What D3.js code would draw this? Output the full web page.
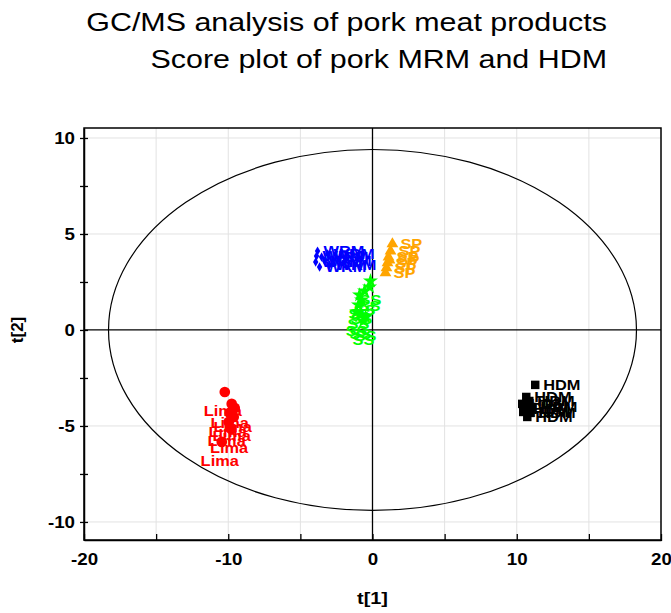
<!DOCTYPE html>
<html><head><meta charset="utf-8">
<script src="https://cdn.jsdelivr.net/npm/d3@7"></script>
<style>body{margin:0;background:#fff} svg{display:block}</style>
</head><body><svg id="c" width="671" height="613"></svg>
<script>
const titleLines = ["GC/MS analysis of pork meat products", "Score plot of pork MRM and HDM"];
const xLabel = "t[1]";
const yLabel = "t[2]";
const xTickValues = [-20, -15, -10, -5, 0, 5, 10, 15, 20];
const xTickLabels = ["-20", "", "-10", "", "0", "", "10", "", "20"];
const yTickValues = [-10, -7.5, -5, -2.5, 0, 2.5, 5, 7.5, 10];
const yTickLabels = ["-10", "", "-5", "", "0", "", "5", "", "10"];
const ellipseRadii = [18.3, 9.4];

const groupNames = ["WRM", "SP", "SS", "Lima", "HDM"];
const wrmX = [-3.81, -3.53, -3.94, -3.32, -3.67, -3.11, -2.98, -3.88];
const wrmY = [4.11, 3.80, 3.54, 3.59, 3.28, 3.96, 3.39, 3.85];
const spX = [1.38, 1.25, 1.11, 1.04, 0.97, 0.90, 1.18];
const spY = [4.48, 4.11, 3.80, 3.49, 3.23, 2.97, 3.64];
const ssX = [-0.14, -0.20, -0.55, -0.90, -0.76, -0.97, -1.10, -0.83, -0.48, -0.62];
const ssY = [2.55, 2.24, 2.03, 1.82, 1.56, 1.30, 0.94, 0.78, 0.68, 0.47];
const limaX = [-10.24, -9.76, -9.55, -9.90, -9.62, -9.97, -9.80, -10.45];
const limaY = [-3.23, -3.85, -4.06, -4.32, -4.53, -4.79, -5.16, -5.83];
const hdmX = [11.28, 10.66, 10.38, 10.45, 10.73, 10.87, 11.07, 10.59, 10.94];
const hdmY = [-2.86, -3.49, -3.85, -4.27, -4.53, -3.70, -4.01, -4.11, -4.32];

const groups = [
  {name: groupNames[0], xs: wrmX, ys: wrmY, color: "#0000ff", symbol: d3.symbolDiamond, size: 25, place: "right", dx: 6},
  {name: groupNames[1], xs: spX, ys: spY, color: "#ffa500", symbol: d3.symbolTriangle, size: 60, place: "right", dx: 8},
  {name: groupNames[2], xs: ssX, ys: ssY, color: "#00ff00", symbol: d3.symbolStar, size: 70, place: "below", dx: 0},
  {name: groupNames[3], xs: limaX, ys: limaY, color: "#ff0000", symbol: d3.symbolCircle, size: 90, place: "below", dx: -2},
  {name: groupNames[4], xs: hdmX, ys: hdmY, color: "#000000", symbol: d3.symbolSquare, size: 72, place: "right", dx: 8}
];

const svg = d3.select("#c");
const font = "Arial, 'Liberation Sans', sans-serif";
const STRETCH = 1.17;
function stretch(sel) {
  sel.each(function () {
    const len = this.getComputedTextLength();
    if (len > 0) d3.select(this).attr("textLength", len * STRETCH).attr("lengthAdjust", "spacingAndGlyphs");
  });
}
const L = 84, R = 661, T = 128, B = 540;
const x = d3.scaleLinear().domain([-20, 20]).range([L, R]);
const y = d3.scaleLinear().domain([-10.94, 10.52]).range([B, T]);

// title
svg.selectAll("text.title").data(titleLines).join("text")
  .attr("class", "title")
  .attr("x", 607).attr("y", (d, i) => 31 + i * 37)
  .attr("text-anchor", "end")
  .attr("font-family", font).attr("font-size", 26)
  .attr("fill", "#000").text(d => d).call(stretch);

// grid
const gridX = xTickValues.filter(v => v !== 0 && Math.abs(v) !== 20);
const gridY = yTickValues.filter(v => v % 5 === 0 && v !== 0);
svg.append("g").selectAll("line").data(gridX).join("line")
  .attr("x1", d => x(d)).attr("x2", d => x(d)).attr("y1", T).attr("y2", B)
  .attr("stroke", "#e2e2e2").attr("stroke-width", 1);
svg.append("g").selectAll("line").data(gridY).join("line")
  .attr("x1", L).attr("x2", R).attr("y1", d => y(d)).attr("y2", d => y(d))
  .attr("stroke", "#e2e2e2").attr("stroke-width", 1);

// zero lines
svg.append("line").attr("x1", x(0)).attr("x2", x(0)).attr("y1", T).attr("y2", B)
  .attr("stroke", "#000").attr("stroke-width", 1.3);
svg.append("line").attr("x1", L).attr("x2", R).attr("y1", y(0)).attr("y2", y(0))
  .attr("stroke", "#000").attr("stroke-width", 1.3);

// ellipse
svg.append("ellipse")
  .attr("cx", x(0)).attr("cy", y(0))
  .attr("rx", x(ellipseRadii[0]) - x(0)).attr("ry", y(0) - y(ellipseRadii[1]))
  .attr("fill", "none").attr("stroke", "#000").attr("stroke-width", 1.2);

// frame
svg.append("rect").attr("x", L).attr("y", T).attr("width", R - L).attr("height", B - T)
  .attr("fill", "none").attr("stroke", "#000").attr("stroke-width", 1.5);

// x axis
const xAxis = d3.axisBottom(x).tickValues(xTickValues)
  .tickFormat((d, i) => xTickLabels[i]).tickSizeInner(-6).tickSizeOuter(0).tickPadding(14);
const gx = svg.append("g").attr("transform", `translate(0,${B})`).call(xAxis);
gx.select(".domain").attr("stroke-width", 1.5);
gx.selectAll(".tick line").attr("stroke-width", 1.3).attr("y1", 1);
gx.selectAll(".tick text").attr("font-family", font).attr("font-size", 16).attr("font-weight", "bold").call(stretch);

// y axis
const yAxis = d3.axisLeft(y).tickValues(yTickValues)
  .tickFormat((d, i) => yTickLabels[i]).tickSizeInner(4).tickSizeOuter(0).tickPadding(5);
const gy = svg.append("g").attr("transform", `translate(${L},0)`).call(yAxis);
gy.select(".domain").attr("stroke-width", 1.5);
gy.selectAll(".tick line").attr("stroke-width", 1.3).attr("x2", 4).attr("x1", -4);
gy.selectAll(".tick text").attr("font-family", font).attr("font-size", 16).attr("font-weight", "bold").call(stretch);

// axis titles
svg.append("text").attr("x", x(0)).attr("y", 604).attr("text-anchor", "middle")
  .attr("font-family", font).attr("font-size", 17).attr("font-weight", "bold").text(xLabel).call(stretch);
svg.append("text").attr("transform", `translate(23,${y(0)}) rotate(-90)`).attr("text-anchor", "middle")
  .attr("font-family", font).attr("font-size", 17).attr("font-weight", "bold").text(yLabel);

// points
const sym = d3.symbol();
groups.forEach(g => {
  const pts = g.xs.map((v, i) => ({x: v, y: g.ys[i]}));
  const gg = svg.append("g");
  gg.selectAll("path").data(pts).join("path")
    .attr("transform", d => `translate(${x(d.x)},${y(d.y)})`)
    .attr("d", sym.type(g.symbol).size(g.size)())
    .attr("fill", g.color);
  gg.selectAll("text").data(pts).join("text")
    .attr("x", d => x(d.x) + g.dx)
    .attr("y", d => g.place === "right" ? y(d.y) + 5 : y(d.y) + 24)
    .attr("text-anchor", g.place === "right" ? "start" : "middle")
    .attr("font-family", font).attr("font-size", 14).attr("font-weight", "bold")
    .attr("fill", g.color).text(g.name).call(stretch);
});
</script></body></html>
